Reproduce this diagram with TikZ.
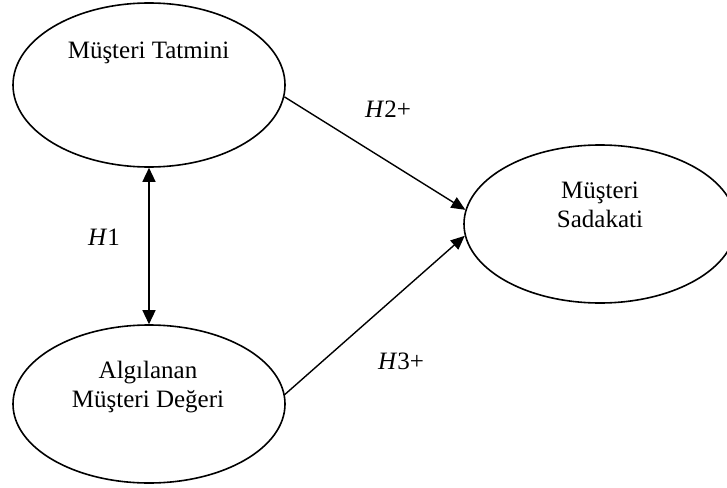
\documentclass[tikz,border=0pt]{standalone}
\usepackage{fontspec}
\setmainfont{Liberation Serif}
\usetikzlibrary{arrows.meta,shapes.geometric}
\begin{document}
\begin{tikzpicture}[x=1pt,y=-1pt,
  construct/.style={ellipse,draw,line width=1.6pt,inner sep=0pt,minimum width=272pt},
  txt/.style={inner sep=0pt,anchor=base,font=\fontsize{25}{29}\selectfont},
  link/.style={line width=1.4pt,-{Triangle[length=14pt,width=12pt]}},
  both/.style={line width=1.4pt,{Triangle[length=14pt,width=13pt]}-{Triangle[length=14pt,width=13pt]}}]
  \useasboundingbox (0,0) rectangle (727,487);
  \clip (0,0) rectangle (727,487);

  % constructs
  \node[construct,minimum height=164pt] (tat) at (149,85) {};
  \node[construct,minimum height=158pt] (deg) at (149,404) {};
  \node[construct,minimum height=158pt] (sad) at (600,224) {};

  % construct names
  \node[txt] (tatname) at (148.5,58) {Müşteri Tatmini};
  \node[txt] (degname1) at (148,378) {Algılanan};
  \node[txt] (degname2) at (148,407) {Müşteri Değeri};
  \node[txt] (sadname1) at (600,198) {Müşteri};
  \node[txt] (sadname2) at (600,227) {Sadakati};

  % hypotheses
  \draw[both] (tat.south) -- (deg.north);
  \draw[link] (tat.-5.5) -- (sad.174.1);
  \draw[link] (deg.4.7) -- (sad.185.5);

  \node[txt] (h1) at (104,245) {\textit{H}1};
  \node[txt] (h2) at (388,117) {\textit{H}2+};
  \node[txt] (h3) at (401,369) {\textit{H}3+};
\end{tikzpicture}
\end{document}
